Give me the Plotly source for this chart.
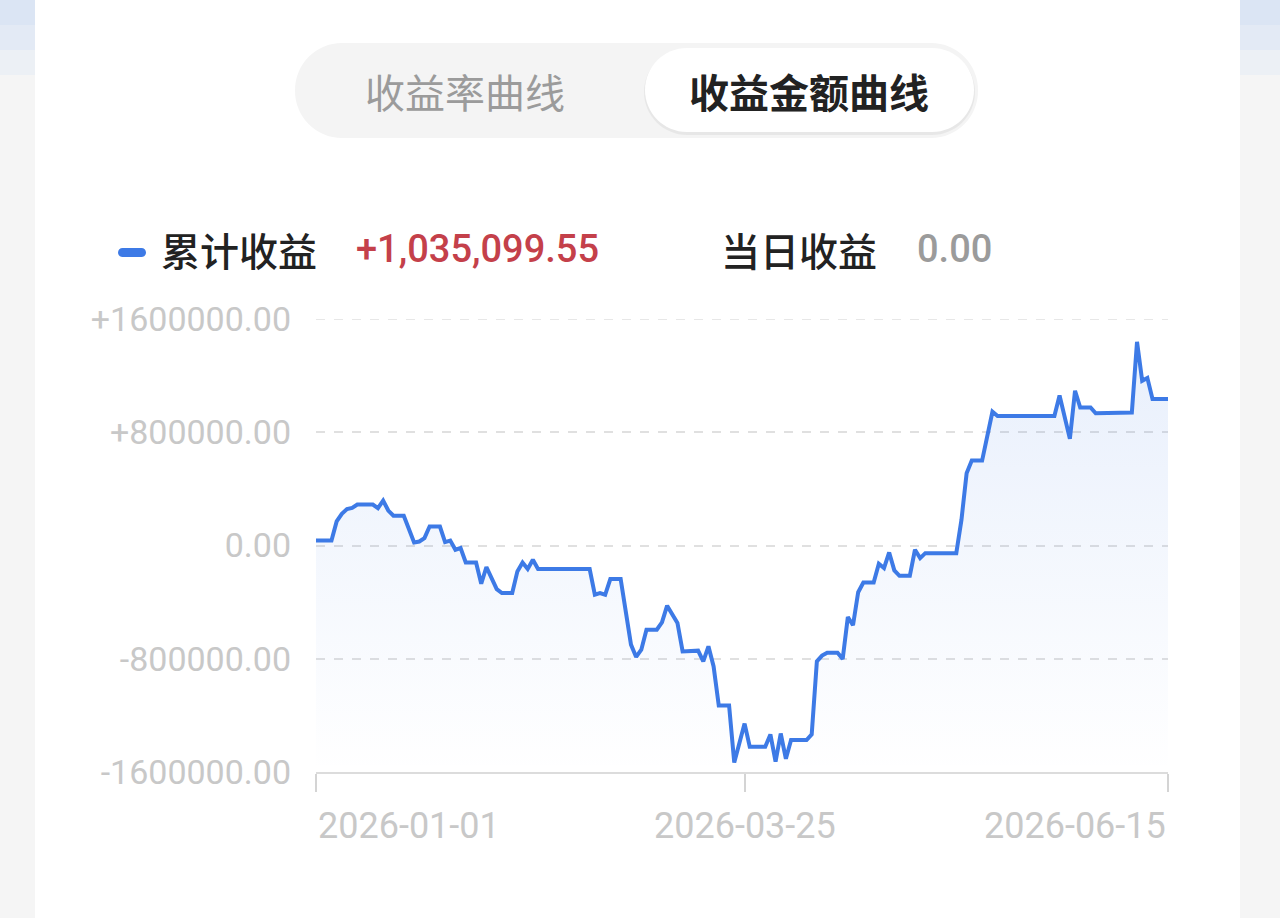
import plotly.graph_objects as go

# ---------------- data ----------------
dates = [
    "2026-01-01", "2026-01-04", "2026-01-05", "2026-01-06", "2026-01-07", "2026-01-08",
    "2026-01-09", "2026-01-12", "2026-01-13", "2026-01-14", "2026-01-15", "2026-01-16",
    "2026-01-18", "2026-01-20", "2026-01-21", "2026-01-22", "2026-01-23", "2026-01-25",
    "2026-01-26", "2026-01-27", "2026-01-28", "2026-01-29", "2026-01-30", "2026-02-01",
    "2026-02-02", "2026-02-03", "2026-02-05", "2026-02-06", "2026-02-08", "2026-02-09",
    "2026-02-10", "2026-02-11", "2026-02-12", "2026-02-13", "2026-02-23", "2026-02-24",
    "2026-02-25", "2026-02-26", "2026-02-27", "2026-03-01", "2026-03-03", "2026-03-04",
    "2026-03-05", "2026-03-06", "2026-03-08", "2026-03-09", "2026-03-10", "2026-03-12",
    "2026-03-13", "2026-03-16", "2026-03-17", "2026-03-18", "2026-03-19", "2026-03-20",
    "2026-03-22", "2026-03-23", "2026-03-25", "2026-03-26", "2026-03-29", "2026-03-30",
    "2026-03-31", "2026-04-01", "2026-04-02", "2026-04-03", "2026-04-06", "2026-04-07",
    "2026-04-08", "2026-04-09", "2026-04-10", "2026-04-12", "2026-04-13", "2026-04-14",
    "2026-04-15", "2026-04-16", "2026-04-17", "2026-04-19", "2026-04-20", "2026-04-21",
    "2026-04-22", "2026-04-23", "2026-04-24", "2026-04-26", "2026-04-27", "2026-04-28",
    "2026-04-29", "2026-05-05", "2026-05-06", "2026-05-07", "2026-05-08", "2026-05-10",
    "2026-05-12", "2026-05-13", "2026-05-24", "2026-05-25", "2026-05-27", "2026-05-28",
    "2026-05-29", "2026-05-31", "2026-06-01", "2026-06-08", "2026-06-09", "2026-06-10",
    "2026-06-11", "2026-06-12", "2026-06-15",
]
cum_profit = [
    35000, 35000, 170000, 224000, 257000, 266000,
    289000, 289000, 264000, 317000, 247000, 210000,
    210000, 21000, 28000, 52000, 134000, 134000,
    24000, 35000, -30000, -18000, -120000, -120000,
    -270000, -152000, -308000, -336000, -336000, -183000,
    -120000, -166000, -101000, -166000, -166000, -348000,
    -336000, -348000, -237000, -237000, -700000, -787000,
    -736000, -595000, -595000, -543000, -425000, -547000,
    -748000, -743000, -818000, -712000, -854000, -1131000,
    -1131000, -1533000, -1258000, -1422000, -1422000, -1335000,
    -1526000, -1328000, -1507000, -1374000, -1374000, -1335000,
    -818000, -778000, -757000, -757000, -801000, -505000,
    -563000, -330000, -261000, -261000, -129000, -159000,
    -49000, -176000, -214000, -214000, -30000, -89000,
    -54000, -54000, 181000, 511000, 600000, 600000,
    945000, 915000, 915000, 1060000, 753000, 1093000,
    975000, 975000, 934000, 940000, 1439000, 1164000,
    1184000, 1035099.55, 1035099.55,
]
y_tickvals = [-1600000, -800000, 0, 800000, 1600000]
y_ticktext = ["-1600000.00", "-800000.00", "0.00", "+800000.00", "+1600000.00"]
x_tickvals = ["2026-01-01", "2026-03-25", "2026-06-15"]
x_ticktext = ["2026-01-01", "2026-03-25", "2026-06-15"]
tab_labels = ["收益率曲线", "收益金额曲线"]
legend_name = "累计收益"
legend_value = "+1,035,099.55"
today_name = "当日收益"
today_value = "0.00"

# ---------------- geometry helpers ----------------
W, H = 1280, 918
L_PX, R_PX, T_PX, B_PX = 316, 1168, 319, 772
PW, PH = R_PX - L_PX, B_PX - T_PX


def fx(px):
    return (px - L_PX) / PW


def fy(py):
    return (B_PX - py) / PH


def rrect(x0, y0, x1, y1, r):
    k = 0.5523 * r
    pts = [
        ("M", [(x0 + r, y0)]),
        ("L", [(x1 - r, y0)]),
        ("C", [(x1 - r + k, y0), (x1, y0 + r - k), (x1, y0 + r)]),
        ("L", [(x1, y1 - r)]),
        ("C", [(x1, y1 - r + k), (x1 - r + k, y1), (x1 - r, y1)]),
        ("L", [(x0 + r, y1)]),
        ("C", [(x0 + r - k, y1), (x0, y1 - r + k), (x0, y1 - r)]),
        ("L", [(x0, y0 + r)]),
        ("C", [(x0, y0 + r - k), (x0 + r - k, y0), (x0 + r, y0)]),
    ]
    s = ""
    for cmd, ps in pts:
        s += cmd + " ".join(f"{fx(a):.5f},{fy(b):.5f}" for a, b in ps) + " "
    return s + "Z"


def rect(x0, y0, x1, y1, color):
    return dict(type="rect", xref="paper", yref="paper", x0=fx(x0), x1=fx(x1),
                y0=fy(y1), y1=fy(y0), fillcolor=color, line=dict(width=0), layer="below")


def path(p, color):
    return dict(type="path", xref="paper", yref="paper", path=p, fillcolor=color,
                line=dict(width=0), layer="below")


LINE_COLOR = "#3d7ae6"
GRID_COLOR = "#e0e0e0"
CJK = "Noto Sans CJK SC"
NUM = "Roboto"

fig = go.Figure()

# baseline for the fill (bottom of the value axis)
fig.add_trace(go.Scatter(
    x=[dates[0], dates[-1]], y=[y_tickvals[0], y_tickvals[0]],
    mode="lines", line=dict(width=0), hoverinfo="skip", showlegend=False,
))
fig.add_trace(go.Scatter(
    x=dates, y=cum_profit, mode="lines", name=legend_name,
    line=dict(color=LINE_COLOR, width=4),
    fill="tonexty",
    fillgradient=dict(type="vertical", start=y_tickvals[0], stop=1500000,
                      colorscale=[[0, "rgba(61,122,230,0.0)"], [1, "rgba(61,122,230,0.12)"]]),
    showlegend=False,
))

shapes = [
    rect(35, 0, 1240, H, "#ffffff"),
    rect(0, 0, 35, 25, "#dbe5f4"), rect(1240, 0, W, 25, "#dbe5f4"),
    rect(0, 25, 35, 50, "#e3eaf5"), rect(1240, 25, W, 50, "#e3eaf5"),
    rect(0, 50, 35, 75, "#ecf0f5"), rect(1240, 50, W, 75, "#ecf0f5"),
    # toggle
    path(rrect(295, 43, 978, 138, 47), "#f4f4f4"),
    path(rrect(644, 49, 975, 135, 43), "rgba(0,0,0,0.05)"),
    path(rrect(645, 48, 974, 132, 42), "#ffffff"),
    # legend marker
    path(rrect(118, 248, 146, 257, 4.5), LINE_COLOR),
    # top gridline (plotly omits the grid line on the range edge)
    dict(type="line", xref="paper", yref="y", x0=0, x1=1,
         y0=y_tickvals[-1], y1=y_tickvals[-1],
         line=dict(color=GRID_COLOR, width=1.5, dash="dash"), layer="below"),
]

annotations = []


def ann(text, px, py, size, color, family, anchor="left", weight="normal"):
    annotations.append(dict(
        text=text, xref="paper", yref="paper", x=fx(px), y=fy(py),
        xanchor=anchor, yanchor="middle", showarrow=False,
        font=dict(size=size, color=color, family=family, weight=weight),
    ))


ann(tab_labels[0], 465, 91, 40, "#9b9b9b", CJK, "center")
ann(tab_labels[1], 809, 91, 40, "#222222", CJK, "center", "bold")
ann(legend_name, 159, 249, 39, "#222222", CJK, weight=500)
ann(legend_value, 354, 249, 38, "#c4404a", NUM, weight=500)
ann(today_name, 719, 249, 39, "#222222", CJK, weight=500)
ann(today_value, 915, 249, 38, "#9b9b9b", NUM, weight=500)

# x labels: first left-aligned, middle centred, last right-aligned
for v, t, a in zip(x_tickvals, x_ticktext, ["left", "center", "right"]):
    annotations.append(dict(
        text=t, xref="x", yref="paper", x=v, y=fy(826), xanchor=a, yanchor="middle",
        showarrow=False, font=dict(size=36, color="#c8c8c8", family=NUM),
    ))

fig.update_layout(
    width=W, height=H,
    margin=dict(l=L_PX, r=W - R_PX, t=T_PX, b=H - B_PX, pad=0),
    paper_bgcolor="#f5f5f5", plot_bgcolor="#ffffff",
    shapes=shapes, annotations=annotations, showlegend=False,
    xaxis=dict(
        type="date", range=[x_tickvals[0], x_tickvals[-1]],
        tickvals=x_tickvals, showticklabels=False,
        ticks="outside", ticklen=18, tickwidth=1.5, tickcolor="#d4d4d4",
        showgrid=False, zeroline=False,
        showline=True, linecolor="#dcdcdc", linewidth=1.5,
    ),
    yaxis=dict(
        range=[y_tickvals[0], y_tickvals[-1]],
        tickvals=y_tickvals, ticktext=y_ticktext,
        tickfont=dict(size=34, color="#c8c8c8", family=NUM),
        ticks="", ticklabelstandoff=24,
        showgrid=True, gridcolor=GRID_COLOR, gridwidth=1.5, griddash="dash",
        zeroline=False, showline=False,
    ),
)

fig.write_html(
    "out.html",
    config={"displayModeBar": False},
    post_script="document.body.style.margin='0';document.body.style.padding='0';"
                "document.documentElement.style.overflow='hidden';",
)
